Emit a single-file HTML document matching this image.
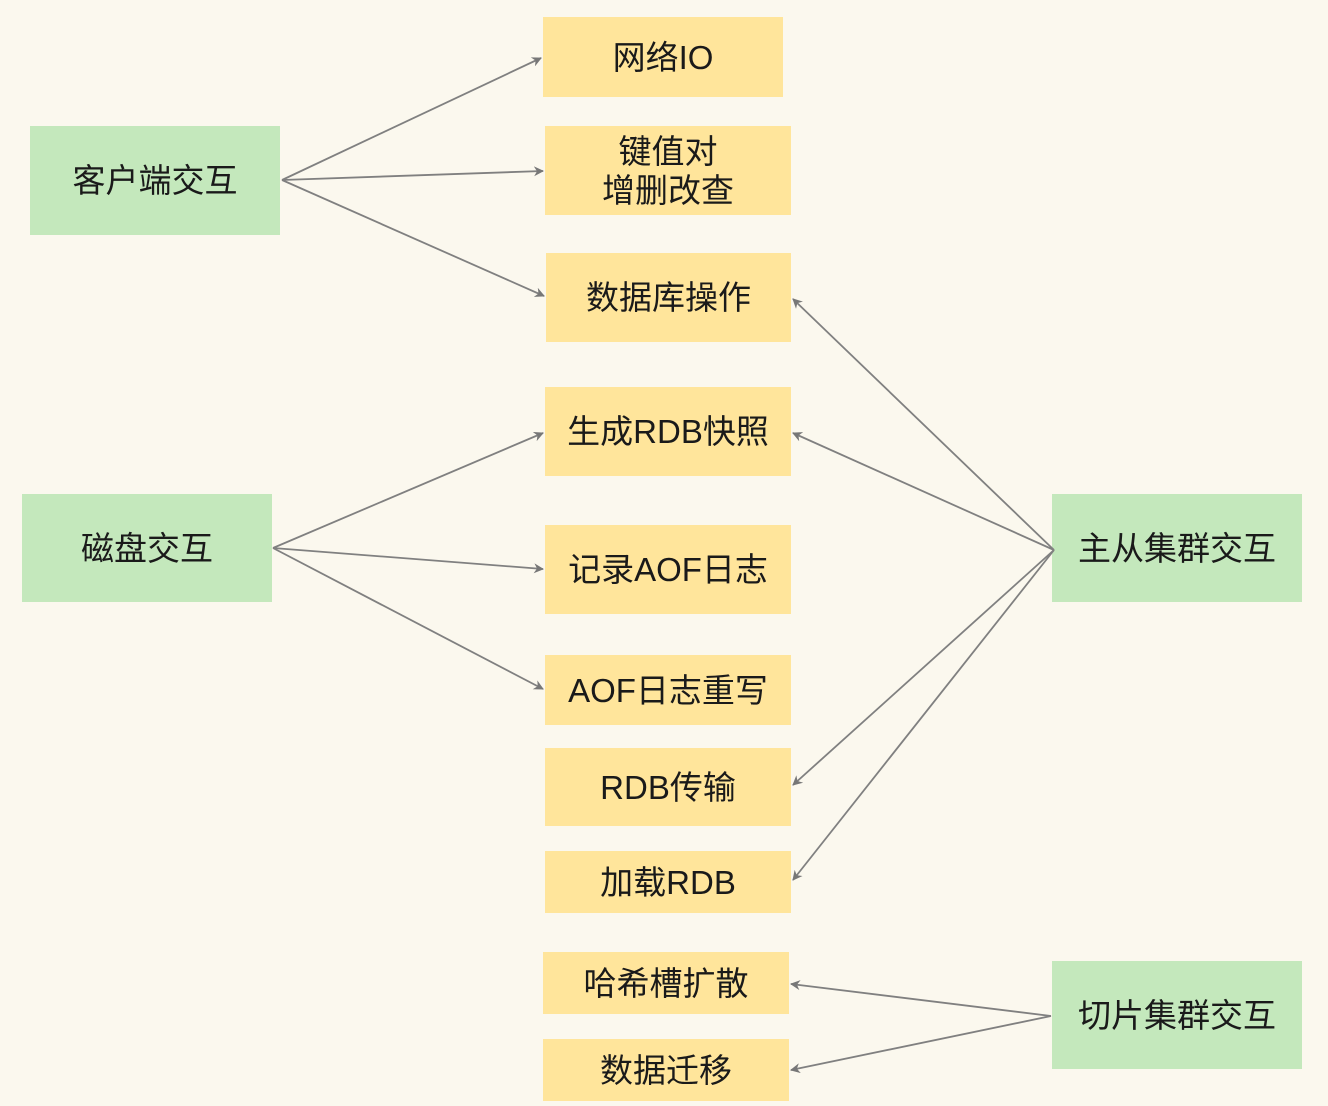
<!DOCTYPE html>
<html><head><meta charset="utf-8"><style>
body{margin:0;width:1328px;height:1106px;background:#FBF8EE;position:relative;overflow:hidden;font-family:"Liberation Sans","Noto Sans CJK SC",sans-serif;}
.b{position:absolute;display:flex;align-items:center;justify-content:center;text-align:center;font-size:33px;line-height:39px;color:#1a1a1a;}
.y{background:#FFE59B}.g{background:#C4E8BC}
svg{position:absolute;left:0;top:0}
</style></head><body>
<div class="b y" style="left:543px;top:17px;width:240px;height:80px">网络IO</div>
<div class="b y" style="left:545px;top:126px;width:246px;height:89px">键值对<br>增删改查</div>
<div class="b y" style="left:546px;top:253px;width:245px;height:89px">数据库操作</div>
<div class="b y" style="left:545px;top:387px;width:246px;height:89px">生成RDB快照</div>
<div class="b y" style="left:545px;top:525px;width:246px;height:89px">记录AOF日志</div>
<div class="b y" style="left:545px;top:655px;width:246px;height:70px">AOF日志重写</div>
<div class="b y" style="left:545px;top:748px;width:246px;height:78px">RDB传输</div>
<div class="b y" style="left:545px;top:851px;width:246px;height:62px">加载RDB</div>
<div class="b y" style="left:543px;top:952px;width:246px;height:62px">哈希槽扩散</div>
<div class="b y" style="left:543px;top:1039px;width:246px;height:62px">数据迁移</div>
<div class="b g" style="left:30px;top:126px;width:250px;height:109px">客户端交互</div>
<div class="b g" style="left:22px;top:494px;width:250px;height:108px">磁盘交互</div>
<div class="b g" style="left:1052px;top:494px;width:250px;height:108px">主从集群交互</div>
<div class="b g" style="left:1052px;top:961px;width:250px;height:108px">切片集群交互</div>
<svg width="1328" height="1106">
<defs><marker id="a" markerWidth="10" markerHeight="10" refX="9" refY="5" orient="auto" markerUnits="userSpaceOnUse"><path d="M0,0 L10,5 L0,10 L3,5 z" fill="#777"/></marker></defs>
<g stroke="#808080" stroke-width="1.8" fill="none" marker-end="url(#a)">
<line x1="282" y1="180" x2="541" y2="58"/>
<line x1="282" y1="180" x2="543" y2="171"/>
<line x1="282" y1="180" x2="544" y2="296"/>
<line x1="273" y1="548" x2="543" y2="433"/>
<line x1="273" y1="548" x2="543" y2="569"/>
<line x1="273" y1="548" x2="543" y2="689"/>
<line x1="1054" y1="550" x2="793" y2="299"/>
<line x1="1054" y1="550" x2="793" y2="433"/>
<line x1="1054" y1="550" x2="793" y2="785"/>
<line x1="1054" y1="550" x2="793" y2="880"/>
<line x1="1051" y1="1016" x2="791" y2="984"/>
<line x1="1051" y1="1016" x2="791" y2="1070"/>
</g></svg>
</body></html>
